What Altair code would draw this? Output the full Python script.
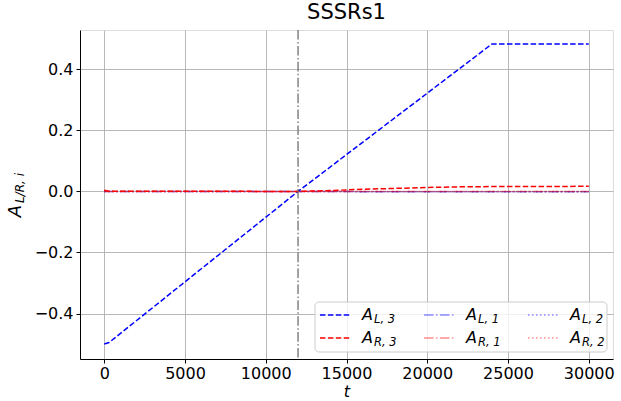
import altair as alt
import pandas as pd

# ---- data ----
t_L3 = [0, 300, 12000, 24000, 26000, 30000]
A_L3 = [-0.500, -0.495, 0.000, 0.483, 0.483, 0.483]

t_R3 = [0, 300, 12000, 14000, 16000, 18000, 20000, 22000, 24000, 27000, 30000]
A_R3 = [0.004, 0.001, 0.000, 0.003, 0.007, 0.010, 0.013, 0.015, 0.016, 0.016, 0.017]

t_flat = [0, 12000, 18000, 24000, 30000]
A_L1 = [0.000, 0.000, -0.001, -0.001, -0.001]
A_R1 = [0.000, 0.000, 0.000, 0.000, 0.000]
A_L2 = [0.000, 0.000, -0.001, -0.001, -0.001]
A_R2 = [0.000, 0.000, 0.000, 0.000, 0.000]

t_marker = [12000]
x_ticks = [0, 5000, 10000, 15000, 20000, 25000, 30000]
y_ticks = [-0.4, -0.2, 0.0, 0.2, 0.4]

W, H = 533, 329
FONT = "DejaVu Sans"
xs = alt.Scale(domain=[-1500, 31500], nice=False, zero=False)
ys = alt.Scale(domain=[-0.549, 0.529], nice=False, zero=False)

series = [
    ("A_L2", t_flat, A_L2, "blue", [1.5, 2.5], 0.45),
    ("A_R2", t_flat, A_R2, "red", [1.5, 2.5], 0.45),
    ("A_L1", t_flat, A_L1, "blue", [9.6, 2.4, 1.5, 2.4], 0.45),
    ("A_R1", t_flat, A_R1, "red", [9.6, 2.4, 1.5, 2.4], 0.45),
    ("A_L3", t_L3, A_L3, "blue", [5.5, 2.4], 1.0),
    ("A_R3", t_R3, A_R3, "red", [5.5, 2.4], 1.0),
]

layers = []
base_df = pd.DataFrame({"t": t_L3, "v": A_L3})
one = pd.DataFrame({"k": [0]})  # single row for decorations

axes_layer = alt.Chart(base_df).mark_line(opacity=0).encode(
    x=alt.X("t:Q", scale=xs, axis=alt.Axis(
        values=x_ticks, format="d", title="t", titleFontStyle="italic",
        titleFontWeight="normal", titleFontSize=16, titleFont=FONT,
        titlePadding=2, labelFontSize=16, labelFont=FONT, labelColor="black",
        domainColor="black", tickColor="black", tickSize=4, labelPadding=2,
        gridColor="#b0b0b0", gridWidth=0.9, labelFlush=False)),
    y=alt.Y("v:Q", scale=ys, axis=alt.Axis(
        values=y_ticks, format=".1f", title=None, labelFontSize=16,
        labelFont=FONT, labelColor="black", domainColor="black",
        tickColor="black", tickSize=4, labelPadding=3,
        gridColor="#b0b0b0", gridWidth=0.9)),
)
layers.append(axes_layer)

for name, tt, vv, col, dash, op in series:
    df = pd.DataFrame({"t": tt, "v": vv})
    layers.append(alt.Chart(df).mark_line(
        color=col, strokeDash=dash, strokeWidth=1.5, strokeOpacity=op, clip=True
    ).encode(x=alt.X("t:Q", scale=xs), y=alt.Y("v:Q", scale=ys)))

vline = alt.Chart(pd.DataFrame({"t": t_marker})).mark_rule(
    color="#707070", strokeDash=[9.6, 2.4, 1.5, 2.4], strokeWidth=1.3
).encode(x=alt.X("t:Q", scale=xs))
layers.append(vline)

# ---- legend (drawn manually for subscripts) ----
box = alt.Chart(one).mark_rect(
    fill="white", fillOpacity=0.8, stroke="#cccccc", strokeWidth=1, cornerRadius=4
).encode(x=alt.value(235), x2=alt.value(527), y=alt.value(272), y2=alt.value(322))
layers.append(box)

legend_items = [
    ("L, 3", 240, 285, "blue", [5.5, 2.4], 1.0),
    ("R, 3", 240, 308, "red", [5.5, 2.4], 1.0),
    ("L, 1", 344, 285, "blue", [9.6, 2.4, 1.5, 2.4], 0.45),
    ("R, 1", 344, 308, "red", [9.6, 2.4, 1.5, 2.4], 0.45),
    ("L, 2", 448, 285, "blue", [1.5, 2.5], 0.45),
    ("R, 2", 448, 308, "red", [1.5, 2.5], 0.45),
]
for sub, lx, ly, col, dash, op in legend_items:
    layers.append(alt.Chart(one).mark_rule(
        color=col, strokeDash=dash, strokeWidth=1.5, strokeOpacity=op
    ).encode(x=alt.value(lx), x2=alt.value(lx + 30), y=alt.value(ly)))
    layers.append(alt.Chart(one).mark_text(
        text="A", font=FONT, fontSize=16, fontStyle="italic", fontWeight="normal",
        align="left", baseline="middle", color="black"
    ).encode(x=alt.value(lx + 42), y=alt.value(ly)))
    layers.append(alt.Chart(one).mark_text(
        text=sub, font=FONT, fontSize=11.5, fontStyle="italic", fontWeight="normal",
        align="left", baseline="middle", color="black"
    ).encode(x=alt.value(lx + 54), y=alt.value(ly + 5)))

# ---- y axis title with subscript ----
layers.append(alt.Chart(one).mark_text(
    text="A", font=FONT, fontSize=18, fontStyle="italic", fontWeight="normal",
    angle=270, align="center", baseline="middle", color="black"
).encode(x=alt.value(-64), y=alt.value(181)))
layers.append(alt.Chart(one).mark_text(
    text="L/R, i", font=FONT, fontSize=12, fontStyle="italic", fontWeight="normal",
    angle=270, align="left", baseline="middle", color="black"
).encode(x=alt.value(-60), y=alt.value(173)))

chart = alt.layer(*layers).properties(
    width=W, height=H,
    title=alt.TitleParams("SSSRs1", fontSize=21, fontWeight="normal",
                          font=FONT, color="black", offset=6),
    autosize=alt.AutoSizeParams(type="none"),
    padding={"left": 80, "top": 30, "right": 8, "bottom": 42},
).configure_view(stroke="black", strokeWidth=1).configure(background="white")

chart.save("out.html", embed_options={"renderer": "svg", "actions": False})
